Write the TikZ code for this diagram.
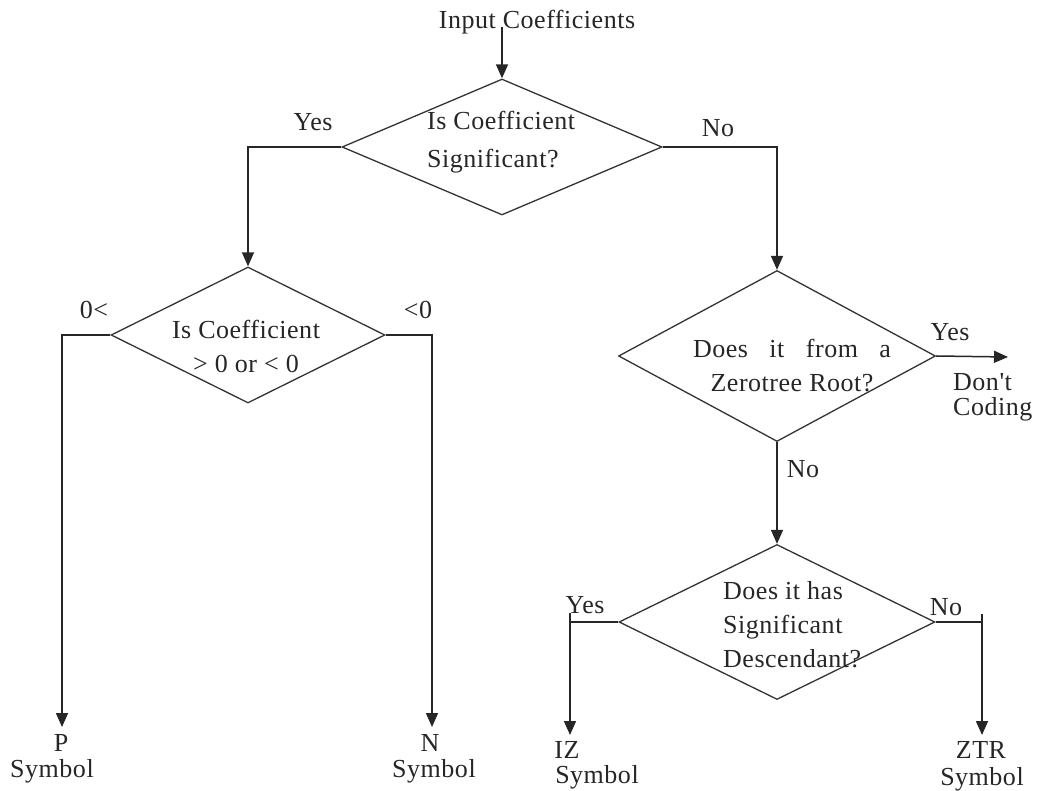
\documentclass[tikz,border=0pt]{standalone}
\usepackage{fontspec}
\setmainfont{Liberation Serif}[LetterSpace=2]
\newfontfamily\rawfont{Liberation Serif}[LetterSpace=2]
\usetikzlibrary{shapes.geometric,arrows.meta}
\begin{document}
\begin{tikzpicture}[x=1pt,y=-1pt,
  every node/.style={font=\fontsize{26}{34}\selectfont, text=black!85, inner sep=1pt},
  dia/.style={draw=black!80, line width=1.3pt, diamond, inner sep=0pt, minimum width=#1},
  conn/.style={draw=black!85, line width=1.5pt},
  arr/.style={conn, -{Triangle[length=14pt,width=12pt]}}]
\useasboundingbox (0,0) rectangle (1037,791);
% diamonds
\node[dia=320pt, minimum height=136pt] (d1) at (502,147) {};
\node[dia=274pt, minimum height=136pt] (d2) at (248,335) {};
\node[dia=317pt, minimum height=171pt] (d3) at (777,356) {};
\node[dia=316pt, minimum height=155pt] (d4) at (777,622) {};
% diamond texts
\node[align=left, anchor=west, font=\fontsize{26}{38}\selectfont] (t1) at (426,142) {Is Coefficient\\Significant?};
\node[align=center] (t2) at (246,346) {Is Coefficient\\> 0 or < 0};
\node[align=center] (t3) at (792,366) {\makebox[198pt][s]{Does it from a}\\Zerotree Root?};
\node[align=left, anchor=west] (t4) at (722,625) {Does it has\\Significant\\Descendant?};
% input
\node (in) at (537,22) {Input Coefficients};
\coordinate (inpt) at (502,27);
\draw[arr] (inpt) -- (d1.north);
% level 1 branches
\draw[arr] (d1.west) -| (d2.north);
\draw[arr] (d1.east) -| (d3.north);
\node (y1) at (313,122) {Yes};
\node (n1) at (718,128) {No};
% d2 branches
\coordinate (ptip) at (62,727);
\coordinate (ntip) at (432,727);
\draw[arr] (d2.west) -| (ptip);
\draw[arr] (d2.east) -| (ntip);
\node (gt) at (94,310) {0<};
\node (lt) at (418,310) {<0};
\node (p) at (61,743) {P};
\node (ps) at (52,771) {Symbol};
\node (n) at (430,743) {N};
\node (ns) at (434,771) {Symbol};
% d3 branches
\coordinate (dctip) at (1008,357);
\draw[arr] (d3.east) -- (dctip);
\node (y3) at (950,332) {Yes};
\node[anchor=west, inner sep=0pt] (dont) at (953,382) {\rawfont Don't};
\node[anchor=west, inner sep=0pt] (cod) at (953,409) {Coding};
\draw[arr] (d3.south) -- (d4.north);
\node (n3) at (803,469) {No};
% d4 branches
\coordinate (iztip) at (570,735);
\coordinate (ztrtip) at (982,735);
\draw[arr] (d4.west) -| (iztip);
\draw[arr] (d4.east) -| (ztrtip);
\draw[conn] (iztip |- d4.west) -- ++(0,-9);
\draw[conn] (ztrtip |- d4.east) -- ++(0,-8);
\node (y4) at (585,605) {Yes};
\node (n4) at (946,607) {No};
\node (iz) at (567,750) {IZ};
\node (izs) at (597,777) {Symbol};
\node (ztr) at (981,750) {ZTR};
\node (ztrs) at (982,779) {Symbol};
\end{tikzpicture}
\end{document}
